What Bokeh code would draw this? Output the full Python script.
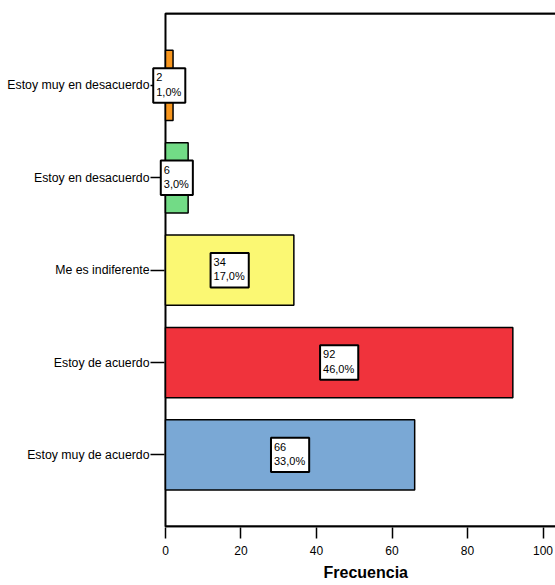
from bokeh.plotting import figure
from bokeh.models import (Range1d, FixedTicker, ColumnDataSource, Label,
                          BoxAnnotation, Title)
from bokeh.embed import file_html
from bokeh.resources import INLINE

# ---- data ----
categories = ["Estoy muy de acuerdo", "Estoy de acuerdo", "Me es indiferente",
              "Estoy en desacuerdo", "Estoy muy en desacuerdo"]
frequencies = [66, 92, 34, 6, 2]
percents = [33.0, 46.0, 17.0, 3.0, 1.0]
colors = ["#7AA8D5", "#F0333C", "#FBF873", "#72DB86", "#F7961E"]
x_ticks = [0, 20, 40, 60, 80, 100]

FONT = "Liberation Sans"

ypos = list(range(len(categories)))
labels = [f"{f}\n{str(p).replace('.', ',')}%" for f, p in zip(frequencies, percents)]
src = ColumnDataSource(dict(y=ypos, f=frequencies, c=colors))

X_START, X_END = -3.97, 103.3
Y_START, Y_END = -0.786, 4.79
INSET = 0.011  # ~1px, keeps the frame lines inside the clipped frame
p = figure(width=555, height=585, output_backend="svg", toolbar_location=None,
           x_range=Range1d(X_START, X_END), y_range=Range1d(Y_START, Y_END),
           min_border_left=150, min_border_right=0, min_border_top=12, min_border_bottom=57)
p.background_fill_color = "white"
p.border_fill_color = "white"
p.outline_line_color = None
p.grid.visible = False

p.hbar(y="y", right="f", left=0, height=0.76, fill_color="c", line_color="black",
       line_width=1.5, source=src)

# plot frame: left line at x = 0, top and bottom lines from x = 0 to the right edge
p.add_layout(BoxAnnotation(left=0, right=1000, bottom=Y_START + INSET, top=Y_END - INSET,
                           fill_alpha=0, line_color="black", line_alpha=1, line_width=2,
                           level="underlay"))
frame_src = ColumnDataSource(dict(x0=[0, 0], x1=[X_END, X_END],
                                  y=[Y_END - INSET, Y_START + INSET]))
p.segment(x0="x0", y0="y", x1="x1", y1="y", source=frame_src,
          line_color="black", line_width=2)

# value boxes
for yv, f, t in zip(ypos, frequencies, labels):
    p.add_layout(Label(x=f / 2, y=yv, text=t, anchor="center", text_align="left",
                       text_font=FONT, text_font_size="11px", text_color="black",
                       background_fill_color="white", border_line_color="black",
                       border_line_width=2,
                       padding=dict(left=3, right=4, top=3, bottom=5)))

# x axis
xa = p.xaxis[0]
xa.ticker = FixedTicker(ticks=x_ticks)
xa.axis_line_color = None
xa.major_tick_in = 0
xa.major_tick_out = 11
xa.major_tick_line_width = 1.5
xa.minor_tick_line_color = None
xa.major_label_text_font = FONT
xa.major_label_text_font_size = "12px"
xa.major_label_text_color = "black"
xa.major_label_standoff = 7

# y axis (ticks drawn inward from the frame edge up to x = 0)
ya = p.yaxis[0]
ya.ticker = FixedTicker(ticks=ypos)
ya.major_label_overrides = {i: c for i, c in zip(ypos, categories)}
ya.axis_line_color = None
ya.major_tick_in = 14
ya.major_tick_out = 0
ya.major_tick_line_width = 1.5
ya.minor_tick_line_color = None
ya.major_label_text_font = FONT
ya.major_label_text_font_size = "12.3px"
ya.major_label_text_color = "black"
ya.major_label_standoff = 1

# x axis title
t = Title(text="Frecuencia", align="left", offset=173, standoff=9,
          text_font=FONT, text_font_size="16px", text_font_style="bold",
          text_color="black")
p.add_layout(t, "below")

open("out.html", "w").write(file_html(p, INLINE))
